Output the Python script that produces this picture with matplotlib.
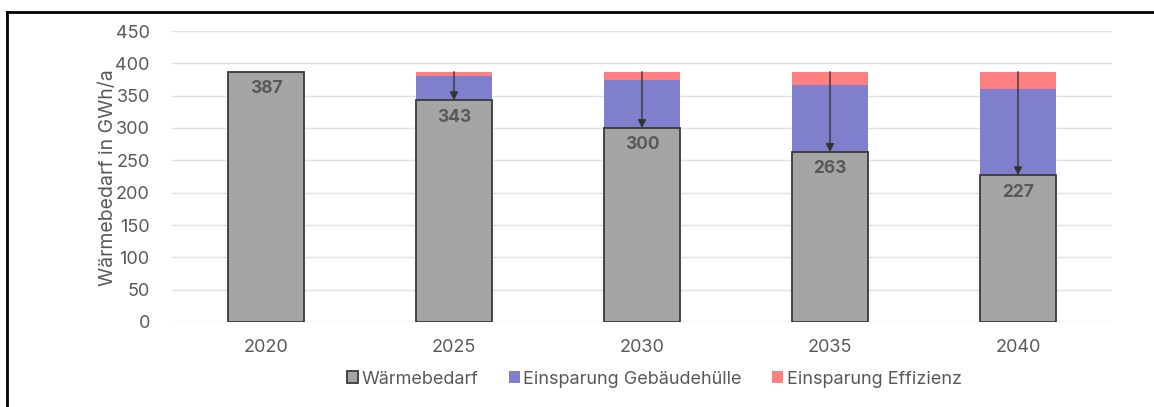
import matplotlib
matplotlib.use("Agg")
import matplotlib.pyplot as plt
from matplotlib.lines import Line2D
from matplotlib.patches import Patch

years = ["2020", "2025", "2030", "2035", "2040"]
waermebedarf = [387, 343, 300, 263, 227]
einsparung_huelle = [0, 38, 74, 104, 134]
einsparung_effizienz = [0, 6, 13, 20, 26]

plt.rcParams['font.family'] = ['Inter', 'DejaVu Sans']

W, H = 1154, 407
fig = plt.figure(figsize=(W / 100, H / 100), dpi=100)
ax = fig.add_axes([172 / W, 1 - 322 / H, (1112 - 172) / W, (322 - 31) / H])

x = list(range(len(years)))
width = 0.405
gray = "#A5A5A5"
blue = "#7F7FCD"
red = "#FF8080"
txt = "#595959"

ax.bar(x, waermebedarf, width, color=gray, edgecolor="#3A3A3A", linewidth=1.3, zorder=3)
bottom2 = waermebedarf
ax.bar(x, einsparung_huelle, width, bottom=bottom2, color=blue, edgecolor="none", zorder=2)
bottom3 = [a + b for a, b in zip(waermebedarf, einsparung_huelle)]
ax.bar(x, einsparung_effizienz, width, bottom=bottom3, color=red, edgecolor="none", zorder=2)

for i, v in enumerate(waermebedarf):
    ax.text(i, v - 26, str(v), ha="center", va="center", fontsize=12.5,
            fontweight="bold", color=txt, zorder=5)
    total = bottom3[i] + einsparung_effizienz[i]
    if total - v > 1:
        ax.annotate("", xy=(i, v), xytext=(i, total),
                    arrowprops=dict(arrowstyle="-|>", color="#333333", lw=1.0,
                                    mutation_scale=12, shrinkA=0, shrinkB=0),
                    zorder=6)

ax.set_xlim(-0.5, len(years) - 0.5)
ax.set_ylim(0, 450)
ax.set_yticks(range(0, 451, 50))
ax.set_xticks(x)
ax.set_xticklabels(years)
ax.tick_params(axis="both", length=0, labelsize=13, colors=txt)
ax.tick_params(axis="y", pad=16)
ax.tick_params(axis="x", pad=12)
ax.yaxis.grid(True, color="#E0E0E0", linewidth=1.0, zorder=0)
ax.set_axisbelow(True)
for s in ax.spines.values():
    s.set_visible(False)
ax.set_ylabel("Wärmebedarf in GWh/a", fontsize=14, color=txt)
ax.yaxis.set_label_coords((108 - 172) / 940, (322 - 178) / 291)
ax.yaxis.label.set_va("center")

handles = [Patch(facecolor=gray, edgecolor="#3A3A3A", linewidth=1.3),
           Patch(facecolor=blue, edgecolor="none"),
           Patch(facecolor=red, edgecolor="none")]
labels = ["Wärmebedarf", "Einsparung Gebäudehülle", "Einsparung Effizienz"]
leg = fig.legend(handles, labels, loc="center", bbox_to_anchor=(0.567, 1 - 379 / H),
                 ncol=3, frameon=False, fontsize=13, handlelength=0.6,
                 handleheight=0.6, handletextpad=0.2, columnspacing=1.7)
for t in leg.get_texts():
    t.set_color(txt)

# outer frame
fig.add_artist(Line2D([7 / W, 1.0], [1 - 12 / H, 1 - 12 / H], color="black", lw=2,
                      transform=fig.transFigure))
fig.add_artist(Line2D([7 / W, 7 / W], [0, 1 - 12 / H], color="black", lw=2,
                      transform=fig.transFigure))

fig.savefig("out.png", dpi=100)
